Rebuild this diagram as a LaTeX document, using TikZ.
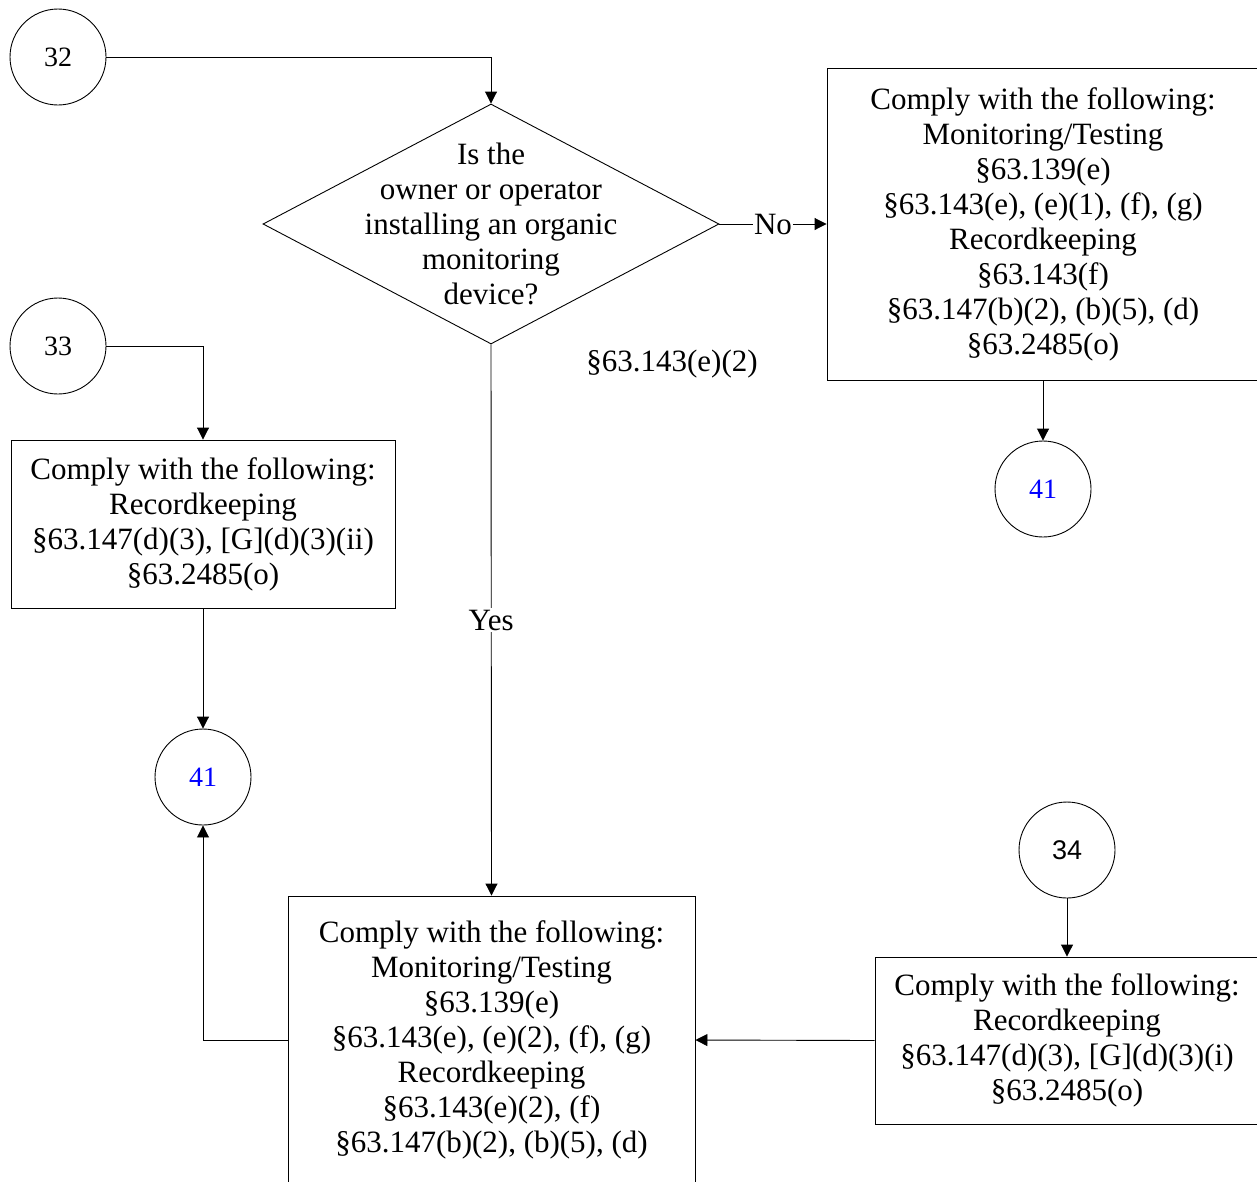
\documentclass[tikz,border=0pt]{standalone}
\usepackage{fontspec}
\setmainfont{Liberation Serif}
\newfontfamily\numsans{Liberation Sans}
\usetikzlibrary{shapes.geometric,arrows.meta}
\definecolor{linkblue}{RGB}{0,0,255}
\begin{document}
\begin{tikzpicture}[x=1pt,y=-1pt,
  every node/.style={font=\fontsize{31}{35}\selectfont},
  conn/.style={draw, line width=0.9pt},
  arr/.style={conn, -{Triangle[length=12pt,width=12pt]}},
  box/.style={draw, rectangle, line width=0.9pt, align=center, inner sep=0pt},
  conncirc/.style={draw, circle, minimum size=96pt, inner sep=0pt, line width=0.9pt, font=\fontsize{28}{32}\selectfont},
  decision/.style={draw, diamond, minimum width=456pt, minimum height=240pt, inner sep=0pt, line width=0.9pt},
  plain/.style={align=center, inner sep=0pt}
]
\useasboundingbox (0,0) rectangle (1257,1181);

% connectors (circles)
\node[conncirc] (c32) at (58,57) {32};
\node[conncirc] (c33) at (58,346) {33};
\node[conncirc, font=\numsans\fontsize{27}{30}\selectfont] (c34) at (1067,850) {34};
\node[conncirc, text=linkblue] (c41a) at (1043,489) {41};
\node[conncirc, text=linkblue] (c41b) at (203,777) {41};

% decision
\node[decision] (q) at (491,224) {};
\node[plain] (qtext) at (491,224) {Is the\\owner or operator\\installing an organic\\monitoring\\device?};

% boxes
\node[box, minimum width=432pt, minimum height=312pt] (rb) at (1043,224)
  {Comply with the following:\\Monitoring/Testing\\§63.139(e)\\§63.143(e), (e)(1), (f), (g)\\Recordkeeping\\§63.143(f)\\§63.147(b)(2), (b)(5), (d)\\§63.2485(o)};
\node[box, minimum width=384pt, minimum height=168pt] (lb) at (203,524)
  {Comply with the following:\\Recordkeeping\\§63.147(d)(3), [G](d)(3)(ii)\\§63.2485(o)};
\node[box, minimum width=407pt, minimum height=288pt] (bb) at (491.5,1040)
  {Comply with the following:\\Monitoring/Testing\\§63.139(e)\\§63.143(e), (e)(2), (f), (g)\\Recordkeeping\\§63.143(e)(2), (f)\\§63.147(b)(2), (b)(5), (d)};
\node[box, minimum width=384pt, minimum height=167pt] (b34) at (1067,1040.5)
  {Comply with the following:\\Recordkeeping\\§63.147(d)(3), [G](d)(3)(i)\\§63.2485(o)};

\node[plain] (cite) at (672,364) {§63.143(e)(2)};

% arrows
\draw[arr] (c32.east) -| (q.north);
\draw[arr] (q.east) -- node[fill=white, inner xsep=1pt, inner ysep=0pt] (nolbl) {No} (rb.west);
\draw[arr] (rb.south) -- (c41a.north);
\draw[arr] (c33.east) -| (lb.north);
\draw[arr] (lb.south) -- (c41b.north);
\draw[arr] (q.south) -- node[fill=white, inner xsep=1pt, inner ysep=2pt] (yeslbl) {Yes} (bb.north);
\draw[arr] (bb.west) -| (c41b.south);
\draw[arr] (c34.south) -- (b34.north);
\draw[arr] (b34.west) -- (bb.east);
\end{tikzpicture}
\end{document}
